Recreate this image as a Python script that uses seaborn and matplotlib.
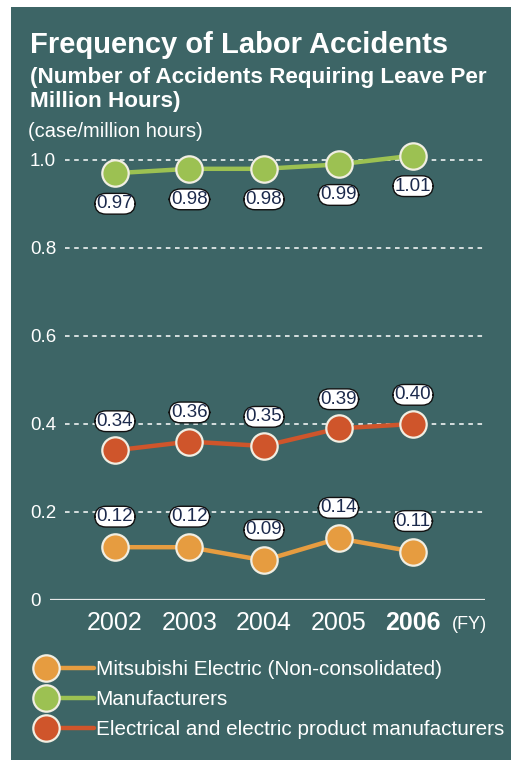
"""Frequency of labor accidents chart (dark teal panel)."""

import matplotlib.pyplot as plt
import pandas as pd
import seaborn as sns
from matplotlib.legend_handler import HandlerLine2D
from matplotlib.lines import Line2D
from matplotlib.patches import Rectangle

YEARS = ["2002", "2003", "2004", "2005", "2006"]
MITSUBISHI = [0.12, 0.12, 0.09, 0.14, 0.11]
MANUFACTURERS = [0.97, 0.98, 0.98, 0.99, 1.01]
ELECTRICAL = [0.34, 0.36, 0.35, 0.39, 0.40]
SERIES_NAMES = [
    "Mitsubishi Electric (Non-consolidated)",
    "Manufacturers",
    "Electrical and electric product manufacturers",
]
Y_TICKS = [0, 0.2, 0.4, 0.6, 0.8, 1.0]
Y_TICK_LABELS = ["0", "0.2", "0.4", "0.6", "0.8", "1.0"]

BG = "#3d6566"
ORANGE = "#e69c40"
GREEN = "#9cc152"
RED = "#cf552b"
EDGE = "#f1eee2"
LABEL_TEXT = "#1c2a4c"
FONT = ["Liberation Sans", "DejaVu Sans"]


class MarkerLeftHandler(HandlerLine2D):
    """Legend handle: circle on the left, line running to the right."""

    def create_artists(self, legend, orig_handle, xdescent, ydescent,
                       width, height, fontsize, trans):
        y = (height - ydescent) / 2.0
        x0 = -xdescent + 10
        line = Line2D([x0, -xdescent + width], [y, y])
        self.update_prop(line, orig_handle, legend)
        line.set_marker("None")
        marker = Line2D([x0], [y])
        self.update_prop(marker, orig_handle, legend)
        marker.set_linestyle("None")
        line.set_transform(trans)
        marker.set_transform(trans)
        return [line, marker]


def main() -> None:
    sns.set_theme(style="white")
    plt.rcParams["font.family"] = FONT

    df = pd.DataFrame(
        {
            "year": YEARS * 3,
            "x": list(range(len(YEARS))) * 3,
            "value": MITSUBISHI + MANUFACTURERS + ELECTRICAL,
            "series": [n for n in SERIES_NAMES for _ in YEARS],
        }
    )
    colors = {SERIES_NAMES[0]: ORANGE, SERIES_NAMES[1]: GREEN, SERIES_NAMES[2]: RED}
    offsets = {SERIES_NAMES[0]: 22, SERIES_NAMES[1]: -22, SERIES_NAMES[2]: 21}

    fig = plt.figure(figsize=(5.12, 7.6), dpi=100, facecolor="white")
    fig.patches.append(
        Rectangle((11 / 512, 0), 500 / 512, 753 / 760, transform=fig.transFigure,
                  facecolor=BG, edgecolor="none", zorder=-5)
    )

    ax = fig.add_axes([50 / 512, 160 / 760, 435 / 512, 462 / 760])
    ax.set_facecolor("none")
    ax.set_xlim(-0.872, 4.966)
    ax.set_ylim(0, 1.05)

    for tick in Y_TICKS[1:]:
        ax.axhline(tick, xmin=0.034, xmax=1, color="white", lw=1.1,
                   ls=(0, (3, 3)), zorder=1)
    ax.axhline(0, color="#e8e8e8", lw=1.6, zorder=1)

    for name in SERIES_NAMES:
        sub = df[df["series"] == name]
        sns.lineplot(
            data=sub, x="x", y="value", ax=ax, color=colors[name], lw=3.2,
            marker="o", markersize=19, markeredgecolor=EDGE, markeredgewidth=1.6,
            label=name, legend=False, zorder=3,
        )
        for xv, yv in zip(sub["x"], sub["value"]):
            ax.annotate(
                f"{yv:.2f}", (xv, yv), xytext=(0, offsets[name]),
                textcoords="offset points", ha="center", va="center",
                fontsize=13.5, color=LABEL_TEXT, zorder=4,
                bbox=dict(boxstyle="round,pad=0.1,rounding_size=0.6",
                          fc="white", ec="#111111", lw=1.0),
            )

    for side in ["top", "right", "left", "bottom"]:
        ax.spines[side].set_visible(False)
    ax.set_xlabel("")
    ax.set_ylabel("")

    ax.set_yticks(Y_TICKS, Y_TICK_LABELS)
    ax.tick_params(axis="y", length=0, pad=14.5, labelsize=13.5, labelcolor="white")
    for lab in ax.get_yticklabels():
        lab.set_horizontalalignment("left")

    ax.set_xticks(range(len(YEARS)), YEARS)
    ax.tick_params(axis="x", length=0, pad=8, labelsize=18, labelcolor="white")
    ax.get_xticklabels()[-1].set_fontweight("bold")
    ax.text(1.004, -0.052, "(FY)", transform=ax.transAxes, ha="right", va="center",
            fontsize=13, color="white")

    fig.text(30 / 512, 1 - 53 / 760, "Frequency of Labor Accidents", fontsize=21,
             fontweight="bold", color="white", va="baseline")
    fig.text(30 / 512, 1 - 83 / 760, "(Number of Accidents Requiring Leave Per",
             fontsize=16.2, fontweight="bold", color="white", va="baseline")
    fig.text(30 / 512, 1 - 107 / 760, "Million Hours)", fontsize=16.2,
             fontweight="bold", color="white", va="baseline")
    fig.text(28 / 512, 1 - 137 / 760, "(case/million hours)", fontsize=14.5,
             color="white", va="baseline")

    handles = [h for h in ax.get_lines() if h.get_label() in SERIES_NAMES]
    fig.legend(
        handles=handles, labels=SERIES_NAMES, loc="upper left",
        bbox_to_anchor=(32 / 512, 1 - 660 / 760), frameon=False, fontsize=14.9,
        labelcolor="white", handlelength=3.0, handletextpad=0.08,
        labelspacing=0.54, borderpad=0, borderaxespad=0,
        handler_map={h: MarkerLeftHandler() for h in handles},
    )

    fig.savefig("out.png", dpi=100, facecolor="white")
    plt.close(fig)


if __name__ == "__main__":
    main()
